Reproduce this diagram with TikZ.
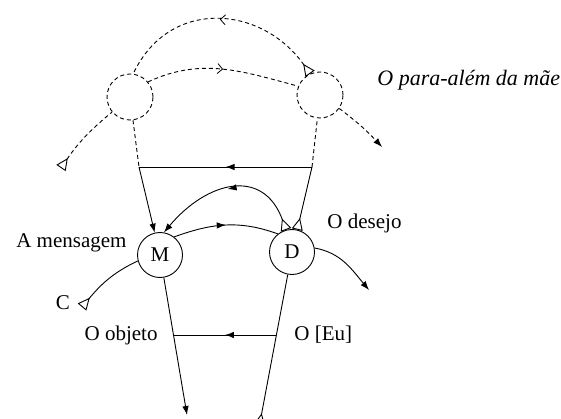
\documentclass[tikz,border=0pt]{standalone}
\usepackage{fontspec}
\setmainfont{Liberation Serif}
\usetikzlibrary{arrows.meta,decorations.markings}

\tikzset{
  arr/.tip={Latex[length=9pt,width=6.5pt]},
  tri/.tip={Triangle[open,reversed,length=12pt,width=11pt,line width=0.9pt]},
  chev/.tip={Straight Barb[length=5pt,width=10pt,line width=0.8pt]},
  meio/.style={postaction={decorate},
    decoration={markings,mark=at position #1 with {\arrow{arr}}}},
  meio/.default=0.5,
  meiot/.style={postaction={decorate},
    decoration={markings,mark=at position #1 with {\pgfsetdash{}{0pt}\arrow{chev}}}},
  meiot/.default=0.5,
  trac/.style={dash pattern=on 4pt off 3pt},
  ponto/.style={circle,draw,minimum size=45pt,inner sep=0pt},
  vazio/.style={circle,draw,trac,minimum size=46pt,inner sep=0pt},
}

\begin{document}
\begin{tikzpicture}[x=1pt, y=-1pt, line width=0.9pt,
    every node/.style={inner sep=0pt, font=\fontsize{21}{24}\selectfont}]
    \useasboundingbox (0,0) rectangle (561,419);

    % Pontos do grafo
    \node[vazio] (L) at (130,97) {};
    \node[vazio] (R) at (320,95) {};
    \node[ponto] (M) at (160,255) {M};
    \node[ponto] (D) at (292,252) {D};

    % Pontos livres
    \coordinate (jl) at (139,167);
    \coordinate (jr) at (312,167);
    \coordinate (jl2) at (173.5,335);
    \coordinate (jr2) at (276.4,335);
    \coordinate (mb) at (187,415);
    \coordinate (db) at (259.5,425);
    \coordinate (cs) at (82,307);
    \coordinate (ls) at (61,168);
    \coordinate (rf) at (382,147);
    \coordinate (df) at (369,290);

    % Andar de cima (tracejado)
    \draw[trac, meiot, tri-] (R.115) to[out=125, in=65, looseness=1.22] (L.82);
    \draw[trac, meiot] (L.40) to[out=25, in=165] (R.158);
    \draw[trac, tri-] (ls) to[bend left=8] (L.220);
    \draw[trac, -arr] (R.-35) to[bend left=5] (rf);

    % Verticais de cima
    \draw[trac] (L) -- (jl);
    \draw[-arr] (jl) -- (M);
    \draw[trac] (jr) -- (R);
    \draw[tri-] (D) -- (jr);
    \draw[meio] (jr) -- (jl);

    % Arco do desejo
    \draw[meio, tri-arr] (D.105) to[out=110, in=50, looseness=1.4] (M.80);

    % Linha da mensagem
    \draw[tri-] (cs) to[out=50, in=205] (M.195);
    \draw[meio] (M.52) to[out=20, in=160] (D.128);
    \draw[-arr] (D.10) to[out=-10, in=130] (df);

    % Andar de baixo
    \draw[-arr] (M) -- (jl2) -- (mb);
    \draw[tri-] (db) -- (jr2) -- (D);
    \draw[meio] (jr2) -- (jl2);

    % Textos
    \node[anchor=west, font=\fontsize{22}{24}\selectfont\itshape] (alem) at (377,80) {O para-além da mãe};
    \node[anchor=east] (msg) at (127,243) {A mensagem};
    \node (c) at (63,303) {C};
    \node[anchor=east] (obj) at (158,335) {O objeto};
    \node[anchor=west] (des) at (327,223) {O desejo};
    \node[anchor=west] (eu) at (294,335) {O [Eu]};
\end{tikzpicture}
\end{document}
